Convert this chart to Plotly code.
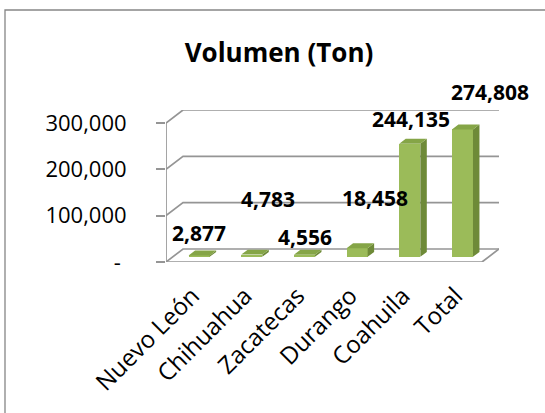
import plotly.graph_objects as go

categories = ["Nuevo León", "Chihuahua", "Zacatecas", "Durango", "Coahuila", "Total"]
values = [2877, 4783, 4556, 18458, 244135, 274808]
value_labels = ["2,877", "4,783", "4,556", "18,458", "244,135", "274,808"]
y_tickvals = [0, 100000, 200000, 300000]
y_ticktext = ["-\u00a0", "100,000", "200,000", "300,000"]

# label nudges (pixels) as in the reference layout
label_dx = [0, 16, 1, 18, 1, 28]
label_dy = [22, 56, 18, 50, 25, 37]

# pseudo-3D geometry (data units)
DX, DY = 0.323, 28000          # wall depth
SH, BY = 0.129, 11200          # bar front offset
BW = 0.40                      # bar width
BX, BZ = 0.123, 10600          # bar depth
n = len(categories)

FRONT = "#9BBB59"
SIDE = "#6E8A38"
TOP = "#85A547"
GRID = "#959595"

fig = go.Figure()

xs = [i + SH for i in range(n)]
fig.add_trace(go.Bar(x=xs, y=values, base=[BY] * n, width=BW,
                     marker=dict(color=FRONT, line=dict(width=0)),
                     hoverinfo="skip", showlegend=False))

sx, sy, tx, ty = [], [], [], []
for i, v in enumerate(values):
    xl = xs[i] - BW / 2
    xr = xs[i] + BW / 2
    b = BY
    sx += [xr, xr + BX, xr + BX, xr, xr, None]
    sy += [b, b + BZ, b + BZ + v, b + v, b, None]
    tx += [xl, xl + BX, xr + BX, xr, xl, None]
    ty += [b + v, b + v + BZ, b + v + BZ, b + v, b + v, None]
fig.add_trace(go.Scatter(x=sx, y=sy, fill="toself", fillcolor=SIDE, mode="lines",
                         line=dict(width=0, color=SIDE), hoverinfo="skip", showlegend=False))
fig.add_trace(go.Scatter(x=tx, y=ty, fill="toself", fillcolor=TOP, mode="lines",
                         line=dict(width=0, color=TOP), hoverinfo="skip", showlegend=False))

shapes = []
x0, x1 = -0.5, n - 0.5
for v in y_tickvals:
    shapes.append(dict(type="path", xref="x", yref="y", layer="below",
                       path=f"M {x0},{v} L {x0 + DX},{v + DY} L {x1 + DX},{v + DY}",
                       line=dict(color=GRID, width=1.7)))
# front left axis
shapes.append(dict(type="line", xref="x", yref="y", x0=x0, y0=0, x1=x0, y1=max(y_tickvals),
                   layer="below", line=dict(color=GRID, width=1.7)))
# floor front and right edges
shapes.append(dict(type="path", xref="x", yref="y", layer="below",
                   path=f"M {x0},0 L {x1},0 L {x1 + DX},{DY}",
                   line=dict(color=GRID, width=1.7)))
# category boundary ticks
for k in range(n + 1):
    xb = x0 + k
    shapes.append(dict(type="line", xref="x", yref="y", ysizemode="pixel", yanchor=0,
                       x0=xb, x1=xb, y0=0, y1=-8, line=dict(color=GRID, width=1.7)))
# chart border
shapes.append(dict(type="rect", xref="paper", yref="paper",
                   x0=(5 - 166) / 333, x1=(560 - 166) / 333,
                   y0=(262 - 430) / 152, y1=(262 - 10) / 152,
                   line=dict(color="#868686", width=1.3), layer="below"))

annotations = []
for i, v in enumerate(values):
    annotations.append(dict(x=xs[i], y=BY + v, xref="x", yref="y", text=value_labels[i],
                            showarrow=False, xshift=label_dx[i], yshift=label_dy[i],
                            xanchor="center", yanchor="middle",
                            font=dict(family="Open Sans", size=21, color="black", weight="bold")))

fig.update_layout(
    width=545, height=413,
    margin=dict(l=166, r=46, t=110, b=151, autoexpand=False),
    paper_bgcolor="white", plot_bgcolor="white",
    bargap=0,
    title=dict(text="<b>Volumen (Ton)</b>", xref="container", yref="container",
               x=279 / 545, y=1 - 53 / 413, xanchor="center", yanchor="middle",
               font=dict(family="Open Sans", size=26, color="black")),
    xaxis=dict(range=[x0, x1 + DX], tickvals=list(range(n)), ticktext=categories,
               tickangle=-45, ticks="", showgrid=False, zeroline=False, showline=False,
               ticklabelstandoff=14,
               tickfont=dict(family="Open Sans", size=24, color="black")),
    yaxis=dict(range=[0, max(y_tickvals) + DY], tickvals=y_tickvals, ticktext=y_ticktext,
               ticks="outside", ticklen=9, tickcolor=GRID, tickwidth=1.7,
               showgrid=False, zeroline=False, showline=False, ticklabelstandoff=25,
               tickfont=dict(family="Open Sans", size=22, color="black")),
    shapes=shapes, annotations=annotations,
)

fig.write_html("out.html", config={"displayModeBar": False},
               post_script="document.body.style.margin='0px';")
